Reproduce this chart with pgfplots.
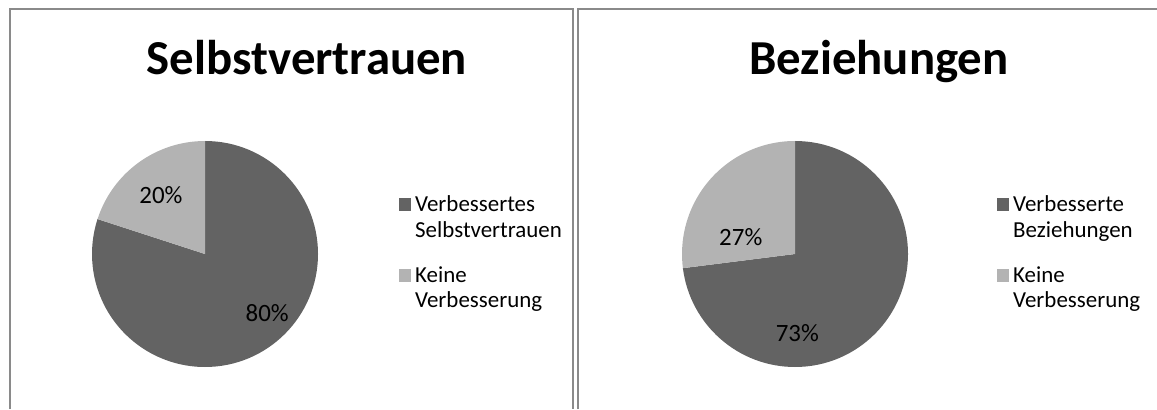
\documentclass[border=0pt]{standalone}
\usepackage{pgfplots}
\pgfplotsset{compat=1.18}
\usepackage{fontspec}
\setmainfont{Carlito}
\definecolor{dark}{HTML}{636363}
\definecolor{light}{HTML}{B3B3B3}
\definecolor{frame}{HTML}{8A8A8A}
\begin{document}
\begin{tikzpicture}[x=1bp,y=1bp]
\useasboundingbox (0,0) rectangle (1157,409);
% panel frames
\draw[frame, line width=2bp] (10,0) -- (10,400) -- (573,400) -- (573,0);
\draw[frame, line width=2bp] (578,0) -- (578,400) -- (1158,400);
% titles
\node[font=\fontsize{49}{58}\selectfont\bfseries, anchor=base] at (307,335) {Selbstvertrauen};
\node[font=\fontsize{49}{58}\selectfont\bfseries, anchor=base] at (879,335) {Beziehungen};
% ---------- left pie
\begin{axis}[at={(205bp,155bp)}, anchor=center, hide axis, scale only axis,
  width=226bp, height=226bp, xmin=-1, xmax=1, ymin=-1, ymax=1]
\pgfmathsetmacro{\va}{80}\pgfmathsetmacro{\vb}{20}
\pgfmathsetmacro{\ea}{90-3.6*\va}\pgfmathsetmacro{\eb}{90+3.6*\vb}
\fill[dark] (axis cs:0,0) -- (axis cs:0,1) arc[start angle=90, end angle=\ea, radius=113bp] -- cycle;
\fill[light] (axis cs:0,0) -- (axis cs:0,1) arc[start angle=90, end angle=\eb, radius=113bp] -- cycle;
\node[font=\fontsize{25}{30}\selectfont] at (axis cs:-0.39,0.52) {20\%};
\node[font=\fontsize{25}{30}\selectfont] at (axis cs:0.55,-0.52) {80\%};
\end{axis}
% ---------- right pie
\begin{axis}[at={(795bp,155bp)}, anchor=center, hide axis, scale only axis,
  width=226bp, height=226bp, xmin=-1, xmax=1, ymin=-1, ymax=1]
\pgfmathsetmacro{\va}{73}\pgfmathsetmacro{\vb}{27}
\pgfmathsetmacro{\ea}{90-3.6*\va}\pgfmathsetmacro{\eb}{90+3.6*\vb}
\fill[dark] (axis cs:0,0) -- (axis cs:0,1) arc[start angle=90, end angle=\ea, radius=113bp] -- cycle;
\fill[light] (axis cs:0,0) -- (axis cs:0,1) arc[start angle=90, end angle=\eb, radius=113bp] -- cycle;
\node[font=\fontsize{25}{30}\selectfont] at (axis cs:-0.48,0.15) {27\%};
\node[font=\fontsize{25}{30}\selectfont] at (axis cs:0.02,-0.70) {73\%};
\end{axis}
% ---------- legends
\begin{scope}[every node/.style={font=\fontsize{23}{27}\selectfont, anchor=base west, inner sep=0pt}]
\fill[dark] (399,198) rectangle (411,211);
\node at (415,198) {Verbessertes};
\node at (415,172) {Selbstvertrauen};
\fill[light] (399,127) rectangle (411,140);
\node at (415,127) {Keine};
\node at (415,102) {Verbesserung};
\fill[dark] (997,198) rectangle (1009,211);
\node at (1013,198) {Verbesserte};
\node at (1013,172) {Beziehungen};
\fill[light] (997,127) rectangle (1009,140);
\node at (1013,127) {Keine};
\node at (1013,102) {Verbesserung};
\end{scope}
\end{tikzpicture}
\end{document}
